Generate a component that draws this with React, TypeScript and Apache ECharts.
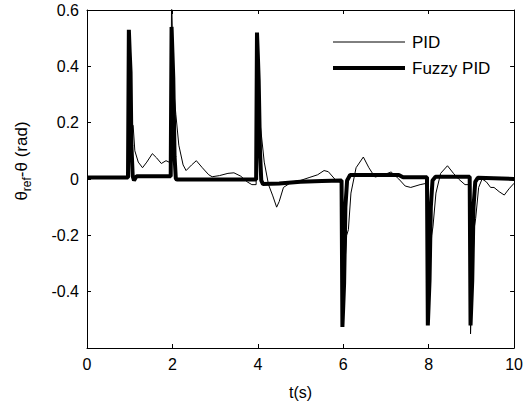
import React, { useEffect, useRef } from "react";
import * as echarts from "echarts";

const xTicks = [0, 2, 4, 6, 8, 10];
const yTicks = [-0.6, -0.4, -0.2, 0, 0.2, 0.4, 0.6];

const fuzzyTime = [0, 0.96, 0.98, 1.0, 1.02, 1.04, 1.07, 1.1, 1.16, 1.96, 1.98, 2.0, 2.02, 2.05, 2.08, 2.12, 3.96, 3.98, 4.0, 4.02, 4.05, 4.08, 4.12, 4.5, 5.0, 5.5, 5.96, 5.98, 6.0, 6.02, 6.05, 6.09, 6.16, 7.3, 7.4, 7.96, 7.98, 8.0, 8.02, 8.05, 8.09, 8.16, 8.96, 8.98, 9.0, 9.02, 9.05, 9.09, 9.15, 10];
const fuzzyValue = [0.005, 0.005, 0.53, 0.45, 0.38, 0.12, 0.01, -0.005, 0.01, 0.01, 0.54, 0.45, 0.36, 0.08, 0.0, -0.002, -0.002, 0.52, 0.44, 0.35, 0.1, -0.005, -0.018, -0.016, -0.01, -0.007, -0.005, -0.525, -0.45, -0.37, -0.1, -0.005, 0.014, 0.014, 0.006, 0.006, -0.52, -0.44, -0.36, -0.1, -0.005, 0.008, 0.008, -0.52, -0.44, -0.36, -0.1, -0.01, 0.004, 0.0];

const pidTime = [0, 0.96, 0.98, 1.01, 1.04, 1.08, 1.12, 1.2, 1.3, 1.4, 1.53, 1.63, 1.74, 1.85, 1.92, 1.96, 1.98, 2.01, 2.04, 2.08, 2.15, 2.25, 2.32, 2.45, 2.56, 2.7, 2.85, 2.93, 3.1, 3.3, 3.44, 3.6, 3.75, 3.86, 3.96, 3.98, 4.01, 4.05, 4.08, 4.15, 4.25, 4.35, 4.44, 4.5, 4.6, 4.8, 5.0, 5.2, 5.4, 5.55, 5.65, 5.8, 5.9, 5.96, 5.98, 6.02, 6.08, 6.12, 6.18, 6.3, 6.47, 6.6, 6.74, 6.9, 7.12, 7.3, 7.45, 7.58, 7.8, 7.96, 7.98, 8.02, 8.07, 8.1, 8.17, 8.28, 8.44, 8.58, 8.7, 8.85, 8.96, 8.98, 9.02, 9.07, 9.1, 9.17, 9.25, 9.35, 9.45, 9.53, 9.65, 9.77, 9.88, 10];
const pidValue = [0.005, 0.005, 0.42, 0.38, 0.2, 0.19, 0.1, 0.06, 0.04, 0.06, 0.09, 0.075, 0.055, 0.065, 0.06, 0.06, 0.65, 0.45, 0.3, 0.23, 0.12, 0.05, 0.03, 0.05, 0.065, 0.04, 0.015, 0.008, 0.012, 0.02, 0.022, 0.01, -0.01, -0.02, -0.02, 0.5, 0.4, 0.2, 0.16, 0.06, -0.02, -0.06, -0.1, -0.08, -0.03, -0.01, -0.005, 0.005, 0.015, 0.03, 0.026, 0.0, -0.01, -0.01, -0.5, -0.35, -0.2, -0.18, -0.05, 0.04, 0.078, 0.04, 0.007, 0.012, 0.025, 0.0, -0.025, -0.03, -0.02, -0.015, -0.5, -0.35, -0.2, -0.17, -0.05, 0.02, 0.047, 0.02, 0.0, -0.02, -0.02, -0.55, -0.35, -0.17, -0.14, -0.03, 0.0, -0.01, -0.03, -0.03, -0.045, -0.057, -0.035, -0.015];

const seriesNames = ["PID", "Fuzzy PID"];
const seriesWidths = [1, 4];

const FONT = "'Liberation Sans', Arial, Helvetica, sans-serif";

function pairs(t: number[], v: number[]) {
  return t.map((x, i) => [x, v[i]]);
}

export default function App() {
  const ref = useRef<HTMLDivElement>(null);
  useEffect(() => {
    if (!ref.current) return;
    const chart = echarts.init(ref.current, undefined, { renderer: "svg" });
    const axisCommon = {
      axisLine: { show: true, onZero: false, lineStyle: { color: "#000", width: 1 } },
      axisTick: { show: true, inside: true, length: 4, lineStyle: { color: "#000" } },
      splitLine: { show: false },
    };
    const legendItems: any[] = [];
    seriesNames.forEach((name, i) => {
      const y = 42 + i * 26;
      legendItems.push({
        type: "line",
        shape: { x1: 333, y1: y, x2: 405, y2: y },
        style: { stroke: "#000", lineWidth: seriesWidths[i] },
      });
      legendItems.push({
        type: "text",
        x: 412,
        y: y,
        style: {
          text: name,
          fontFamily: FONT,
          fontSize: 17,
          fill: "#000",
          align: "left",
          verticalAlign: "middle",
        },
      });
    });
    chart.setOption({
      animation: false,
      backgroundColor: "#fff",
      grid: { left: 87, right: 9, top: 10, bottom: 57, containLabel: false },
      xAxis: [
        {
          type: "value",
          min: 0,
          max: 10,
          interval: 2,
          position: "bottom",
          ...axisCommon,
          axisLabel: {
            show: true,
            fontFamily: FONT,
            fontSize: 16,
            color: "#000",
            margin: 8,
            formatter: (v: number) => (xTicks.includes(v) ? String(v) : ""),
          },
          name: "t(s)",
          nameLocation: "middle",
          nameGap: 36,
          nameTextStyle: { fontFamily: FONT, fontSize: 16, color: "#000" },
        },
        {
          type: "value",
          min: 0,
          max: 10,
          interval: 2,
          position: "top",
          ...axisCommon,
          axisLabel: { show: false },
        },
      ],
      yAxis: [
        {
          type: "value",
          min: -0.6,
          max: 0.6,
          interval: 0.2,
          position: "left",
          ...axisCommon,
          axisLabel: {
            show: true,
            fontFamily: FONT,
            fontSize: 16,
            color: "#000",
            margin: 8,
            formatter: (v: number) => {
              const r = Math.round(v * 10) / 10;
              if (Math.abs(r + 0.6) < 1e-6) return "";
              return yTicks.some((t) => Math.abs(t - r) < 1e-6) ? String(r) : "";
            },
          },
        },
        {
          type: "value",
          min: -0.6,
          max: 0.6,
          interval: 0.2,
          position: "right",
          ...axisCommon,
          axisLabel: { show: false },
        },
      ],
      graphic: [
        {
          type: "text",
          x: 21,
          y: 161,
          rotation: Math.PI / 2,
          style: {
            text: "{a|θ}{s|ref}{a|-θ (rad)}",
            align: "center",
            verticalAlign: "middle",
            fill: "#000",
            rich: {
              a: { fontFamily: FONT, fontSize: 17, lineHeight: 24, fill: "#000" },
              s: { fontFamily: FONT, fontSize: 12, lineHeight: 12, verticalAlign: "bottom", fill: "#000" },
            },
          },
        },
        ...legendItems,
      ],
      series: [
        {
          name: "PID",
          type: "line",
          data: pairs(pidTime, pidValue),
          symbol: "none",
          lineStyle: { color: "#000", width: seriesWidths[0] },
          itemStyle: { color: "#000" },
          z: 3,
        },
        {
          name: "Fuzzy PID",
          type: "line",
          data: pairs(fuzzyTime, fuzzyValue),
          symbol: "none",
          lineStyle: { color: "#000", width: seriesWidths[1] },
          itemStyle: { color: "#000" },
          z: 2,
        },
      ],
    });
    return () => chart.dispose();
  }, []);
  return <div ref={ref} style={{ width: 526, height: 405, position: "absolute", left: 0, top: 0 }} />;
}
